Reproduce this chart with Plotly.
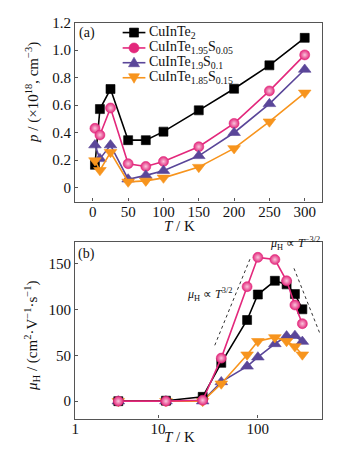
import plotly.graph_objects as go

# ---------- data ----------
T_a = [3, 10, 25, 50, 75, 100, 150, 200, 250, 300]
p_s0 = [0.167, 0.572, 0.718, 0.346, 0.346, 0.408, 0.563, 0.72, 0.89, 1.09]
p_s005 = [0.432, 0.384, 0.58, 0.175, 0.155, 0.191, 0.298, 0.468, 0.704, 0.966]
p_s01 = [0.31, 0.21, 0.31, 0.062, 0.09, 0.124, 0.232, 0.40, 0.61, 0.86]
p_s015 = [0.198, 0.127, 0.258, 0.043, 0.05, 0.072, 0.15, 0.286, 0.48, 0.69]

T_b = [4, 12, 28, 43, 78, 100, 148, 194, 235, 279]
mu_s0 = [0, 0.5, 4.7, 41.8, 88.6, 116.4, 131.4, 127.5, 117, 100.3]
mu_s005 = [0, 0, 1, 47, 125, 157, 154.6, 131.4, 105, 84.6]
mu_s01 = [0, 0, 0, 21, 38, 48, 62.5, 71, 71.5, 65]
mu_s015 = [0, 0, 0, 19, 50.7, 65.4, 69.6, 65.4, 59.6, 50.7]

names = ["CuInTe<sub>2</sub>",
         "CuInTe<sub>1.95</sub>S<sub>0.05</sub>",
         "CuInTe<sub>1.9</sub>S<sub>0.1</sub>",
         "CuInTe<sub>1.85</sub>S<sub>0.15</sub>"]
colors = ["#000000", "#e3287c", "#5a4699", "#f7941d"]
symbols = ["square", "circle", "triangle-up", "triangle-down"]
sizes = [9, 10, 11, 11]

# guide lines (T, mu)
guide_left_T = [37, 84]
guide_left_mu = [61, 156]
guide_right_T = [230, 414]
guide_right_mu = [145, 75]

y_ticks_a = [0, 0.2, 0.4, 0.6, 0.8, 1.0, 1.2]
y_ticktext_a = ["0", "0.2", "0.4", "0.6", "0.8", "1.0", "1.2"]
x_ticks_a = [0, 50, 100, 150, 200, 250, 300]
y_ticks_b = [0, 50, 100, 150]
x_ticks_b = [1.48, 10, 100]
x_ticktext_b = ["1", "10", "100"]

FONT = "Liberation Serif"
fig = go.Figure()

pa = [p_s0, p_s005, p_s01, p_s015]
mb = [mu_s0, mu_s005, mu_s01, mu_s015]


def marker(i):
    m = dict(symbol=symbols[i], size=sizes[i], color=colors[i], line=dict(color=colors[i], width=0.6))
    if i == 1:
        m["gradient"] = dict(type="radial", color="#f9c6dc")
    return m


# guide dotted lines
for gx, gy in [(guide_left_T, guide_left_mu), (guide_right_T, guide_right_mu)]:
    fig.add_trace(go.Scatter(x=gx, y=gy, mode="lines", xaxis="x2", yaxis="y2",
                             line=dict(color="#333", width=1, dash="3px,3px"),
                             showlegend=False, hoverinfo="skip"))

for i in range(4):
    fig.add_trace(go.Scatter(x=T_a, y=pa[i], mode="lines+markers", name=names[i], showlegend=False,
                             line=dict(color=colors[i], width=1.6), marker=marker(i),
                             xaxis="x", yaxis="y"))
for i in [2, 3, 0, 1]:
    fig.add_trace(go.Scatter(x=T_b, y=mb[i], mode="lines+markers", name=names[i], showlegend=False,
                             line=dict(color=colors[i], width=1.6), marker=marker(i),
                             xaxis="x2", yaxis="y2"))

axis_common = dict(showline=True, linecolor="#555", linewidth=1.2, mirror=True, ticks="inside",
                   ticklen=3, tickcolor="#555", showgrid=False, zeroline=False,
                   tickfont=dict(family=FONT, size=15, color="#111"))

fig.update_layout(
    width=354, height=450, margin=dict(l=0, r=0, t=0, b=0),
    paper_bgcolor="white", plot_bgcolor="white",
    font=dict(family=FONT, color="#111"),
    xaxis=dict(domain=[0.2034, 0.9096], anchor="y", range=[-25, 325], tickvals=x_ticks_a,
               ticklabelstandoff=-4, **axis_common),
    yaxis=dict(domain=[0.5622, 0.9667], anchor="x", range=[-0.1, 1.2], tickvals=y_ticks_a,
               ticktext=y_ticktext_a, **axis_common),
    xaxis2=dict(domain=[0.2034, 0.9096], anchor="y2", type="log", range=[0.170, 2.646],
                tickvals=x_ticks_b, ticktext=x_ticktext_b, ticklabelstandoff=-4, **axis_common),
    yaxis2=dict(domain=[0.0711, 0.4711], anchor="x2", range=[-19, 174], tickvals=y_ticks_b, **axis_common),
    showlegend=False,
)

# ---- custom legend (paper coordinates) ----
leg_rows = [0.9444, 0.9096, 0.8762, 0.8422]
leg_x0, leg_x1, leg_xm, leg_xt = 0.339, 0.404, 0.3715, 0.4096
shapes = []
annotations = []
for i, yy in enumerate(leg_rows):
    shapes.append(dict(type="line", xref="paper", yref="paper", x0=leg_x0, x1=leg_x1, y0=yy, y1=yy,
                       line=dict(color=colors[i], width=1.6)))
    base = dict(xref="paper", yref="paper", xsizemode="pixel", ysizemode="pixel",
                xanchor=leg_xm, yanchor=yy, fillcolor=colors[i], line=dict(color=colors[i], width=0.6))
    if i == 0:
        shapes.append(dict(type="rect", x0=-4.5, x1=4.5, y0=-4.5, y1=4.5, **base))
    elif i == 1:
        shapes.append(dict(type="circle", x0=-5, x1=5, y0=-5, y1=5, **base))
    elif i == 2:
        shapes.append(dict(type="path", path="M-5.5,-4 L5.5,-4 L0,5.5 Z", **base))
    else:
        shapes.append(dict(type="path", path="M-5.5,4 L5.5,4 L0,-5.5 Z", **base))
    annotations.append(dict(x=leg_xt, y=yy, xref="paper", yref="paper", text=names[i], showarrow=False,
                            xanchor="left", yanchor="middle",
                            font=dict(family=FONT, size=14, color="#111")))

ann = [
    dict(x=0.237, y=0.944, text="(a)", size=14),
    dict(x=0.237, y=0.444, text="(b)", size=14),
    dict(x=0.50, y=0.507, text="<i>T</i> / K", size=15),
    dict(x=0.50, y=0.029, text="<i>T</i> / K", size=15),
    dict(x=0.587, y=0.352, text="<i>μ</i><sub>H</sub> ∝ <i>T</i><sup>3/2</sup>", size=12),
    dict(x=0.831, y=0.467, text="<i>μ</i><sub>H</sub> ∝ <i>T</i><sup>−3/2</sup>", size=12),
]
for a in ann:
    annotations.append(dict(x=a["x"], y=a["y"], xref="paper", yref="paper", text=a["text"],
                            showarrow=False, font=dict(family=FONT, size=a["size"], color="#111"),
                            xanchor="center", yanchor="middle"))
annotations.append(dict(x=0.083, y=0.808, xref="paper", yref="paper", textangle=-90,
                        xanchor="center", yanchor="middle",
                        text="<i>p</i> / (×10<sup>18</sup>, cm<sup>−3</sup>)", showarrow=False,
                        font=dict(family=FONT, size=15, color="#111")))
annotations.append(dict(x=0.080, y=0.258, xref="paper", yref="paper", textangle=-90,
                        xanchor="center", yanchor="middle",
                        text="<i>μ</i><sub>H</sub> / (cm<sup>2</sup>·V<sup>−1</sup>·s<sup>−1</sup>)",
                        showarrow=False, font=dict(family=FONT, size=15, color="#111")))
fig.update_layout(annotations=annotations, shapes=shapes)

fig.write_html("out.html")
